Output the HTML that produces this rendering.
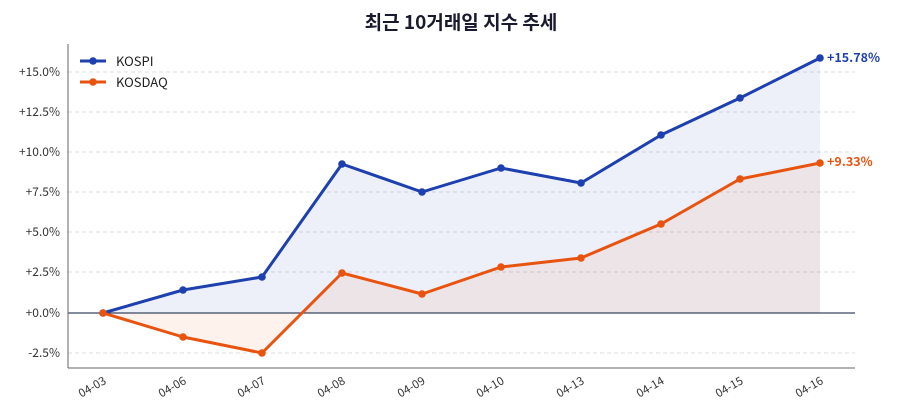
<!DOCTYPE html>
<html><head><meta charset="utf-8"><style>
html,body{margin:0;padding:0;background:#fff;}
svg{display:block;font-family:"Noto Sans CJK KR","Liberation Sans",sans-serif;}
</style></head><body>
<svg width="900" height="420" viewBox="0 0 900 420" xmlns="http://www.w3.org/2000/svg">
<rect width="900" height="420" fill="#fff"/>
<text x="461" y="29" text-anchor="middle" font-size="19" font-weight="bold" fill="#1a1a2e">최근 10거래일 지수 추세</text>
<g stroke="#dddddd" stroke-dasharray="4,3" stroke-width="1">
<line x1="68" x2="855" y1="72" y2="72"/><line x1="68" x2="855" y1="112" y2="112"/>
<line x1="68" x2="855" y1="152" y2="152"/><line x1="68" x2="855" y1="192" y2="192"/>
<line x1="68" x2="855" y1="232" y2="232"/><line x1="68" x2="855" y1="272" y2="272"/>
<line x1="68" x2="855" y1="353" y2="353"/>
</g>
<g font-size="12" fill="#333" text-anchor="end">
<text x="60" y="76">+15.0%</text><text x="60" y="116">+12.5%</text>
<text x="60" y="156">+10.0%</text><text x="60" y="196">+7.5%</text>
<text x="60" y="236">+5.0%</text><text x="60" y="276">+2.5%</text>
<text x="60" y="317">+0.0%</text><text x="60" y="357">-2.5%</text>
</g>
<polygon fill="#1e3fae" fill-opacity="0.08" points="103,313 183,290 262,277 342,164 422,192 501,168 581,183 661,135 740,98 820,58 820,313"/>
<polygon fill="#e8540f" fill-opacity="0.08" points="103,313 183,337 262,353 342,273 422,294 501,267 581,258 661,224 740,179 820,163 820,313"/>
<line x1="68" x2="855" y1="313" y2="313" stroke="#3a4660" stroke-width="1.2"/>
<polyline fill="none" stroke="#1e3fae" stroke-width="3" stroke-linejoin="round" points="103,313 183,290 262,277 342,164 422,192 501,168 581,183 661,135 740,98 820,58"/>
<polyline fill="none" stroke="#e8540f" stroke-width="3" stroke-linejoin="round" points="103,313 183,337 262,353 342,273 422,294 501,267 581,258 661,224 740,179 820,163"/>
<g fill="#1e3fae"><circle cx="103" cy="313" r="3.8"/><circle cx="183" cy="290" r="3.8"/><circle cx="262" cy="277" r="3.8"/><circle cx="342" cy="164" r="3.8"/><circle cx="422" cy="192" r="3.8"/><circle cx="501" cy="168" r="3.8"/><circle cx="581" cy="183" r="3.8"/><circle cx="661" cy="135" r="3.8"/><circle cx="740" cy="98" r="3.8"/><circle cx="820" cy="58" r="3.8"/></g>
<g fill="#e8540f"><circle cx="103" cy="313" r="3.8"/><circle cx="183" cy="337" r="3.8"/><circle cx="262" cy="353" r="3.8"/><circle cx="342" cy="273" r="3.8"/><circle cx="422" cy="294" r="3.8"/><circle cx="501" cy="267" r="3.8"/><circle cx="581" cy="258" r="3.8"/><circle cx="661" cy="224" r="3.8"/><circle cx="740" cy="179" r="3.8"/><circle cx="820" cy="163" r="3.8"/></g>
<text x="827" y="62" font-size="12.5" font-weight="bold" fill="#1e3fae">+15.78%</text>
<text x="827" y="166" font-size="12.5" font-weight="bold" fill="#e8540f">+9.33%</text>
<line x1="68" x2="68" y1="44" y2="368" stroke="#666" stroke-width="1"/>
<line x1="68" x2="855" y1="368" y2="368" stroke="#666" stroke-width="1"/>
<g font-size="11.5" fill="#333" text-anchor="end">
<text transform="translate(107,383) rotate(-30)">04-03</text>
<text transform="translate(187,383) rotate(-30)">04-06</text>
<text transform="translate(266,383) rotate(-30)">04-07</text>
<text transform="translate(346,383) rotate(-30)">04-08</text>
<text transform="translate(426,383) rotate(-30)">04-09</text>
<text transform="translate(505,383) rotate(-30)">04-10</text>
<text transform="translate(585,383) rotate(-30)">04-13</text>
<text transform="translate(665,383) rotate(-30)">04-14</text>
<text transform="translate(744,383) rotate(-30)">04-15</text>
<text transform="translate(824,383) rotate(-30)">04-16</text>
</g>
<line x1="80" x2="106" y1="61" y2="61" stroke="#1e3fae" stroke-width="3"/><circle cx="93" cy="61" r="3.8" fill="#1e3fae"/>
<text x="116" y="66" font-size="13" fill="#222">KOSPI</text>
<line x1="80" x2="106" y1="82" y2="82" stroke="#e8540f" stroke-width="3"/><circle cx="93" cy="82" r="3.8" fill="#e8540f"/>
<text x="116" y="87" font-size="13" fill="#222">KOSDAQ</text>
</svg>
</body></html>
